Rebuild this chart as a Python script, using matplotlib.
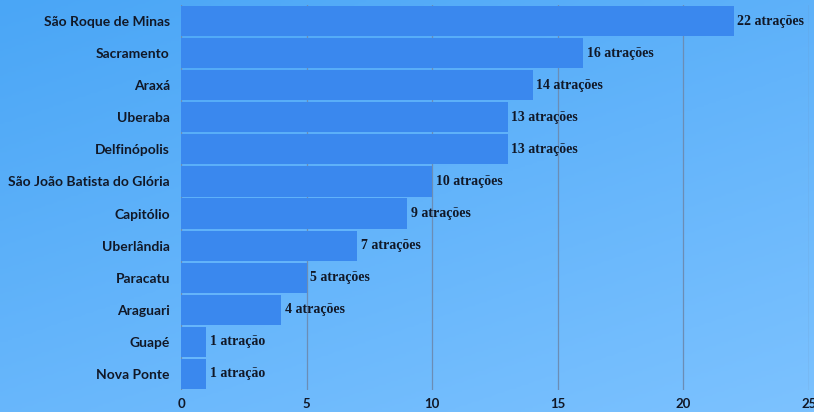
import matplotlib
matplotlib.use("Agg")
import matplotlib.pyplot as plt
import numpy as np
from matplotlib.colors import LinearSegmentedColormap
from matplotlib import font_manager

cities = ["São Roque de Minas", "Sacramento", "Araxá", "Uberaba", "Delfinópolis",
          "São João Batista do Glória", "Capitólio", "Uberlândia", "Paracatu",
          "Araguari", "Guapé", "Nova Ponte"]
values = [22, 16, 14, 13, 13, 10, 9, 7, 5, 4, 1, 1]
xticks = [0, 5, 10, 15, 20, 25]

names = {f.name for f in font_manager.fontManager.ttflist}
serif_font = "Liberation Serif" if "Liberation Serif" in names else "DejaVu Serif"

W, H = 814, 412
fig = plt.figure(figsize=(W / 100, H / 100), dpi=100)

# gradient background
bg = fig.add_axes([0, 0, 1, 1], zorder=0)
yy, xx = np.mgrid[0:1:200j, 0:1:200j]
grad = 0.6 * yy + 0.4 * xx
cmap = LinearSegmentedColormap.from_list("bg", ["#4aa6f6", "#7cc2ff"])
bg.imshow(grad, cmap=cmap, aspect="auto", extent=[0, 1, 1, 0])
bg.axis("off")

ax = fig.add_axes([181 / W, 1 - 390 / H, (809 - 181) / W, (390 - 5) / H], zorder=1)
ax.patch.set_alpha(0)
y = np.arange(len(cities))
ax.barh(y, values, height=0.94, color="#3a88ee", zorder=2)
ax.set_ylim(len(cities) - 0.5, -0.5)
ax.set_xlim(0, 25)
ax.set_xticks(xticks)
ax.set_xticklabels([str(t) for t in xticks], fontsize=9.5, fontweight="bold",
                   color="#111827", family="Lato")
ax.tick_params(axis="x", length=0, pad=6)
ax.set_yticks(y)
ax.set_yticklabels(cities, fontsize=10, fontweight="bold", color="#111827", family="Lato")
ax.tick_params(axis="y", length=0, pad=8)
for s in ax.spines.values():
    s.set_visible(False)
ax.xaxis.grid(True, color="#6b8db5", linewidth=0.9, zorder=1)
ax.set_axisbelow(True)

for i, v in enumerate(values):
    label = f"{v} atração" if v == 1 else f"{v} atrações"
    ax.text(v + 0.15, i, label, va="center", ha="left", fontsize=10,
            fontweight="bold", color="#111827", family=[serif_font, "DejaVu Serif"],
            zorder=3)

fig.savefig("out.png", dpi=100)
